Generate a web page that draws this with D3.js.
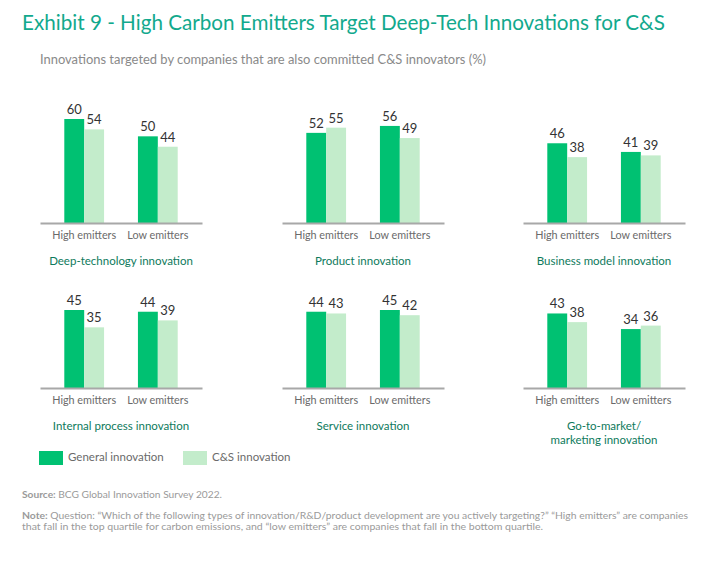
<!DOCTYPE html>
<html>
<head>
<meta charset="utf-8">
<script src="https://cdn.jsdelivr.net/npm/d3@7"></script>
<style>
  html, body { margin: 0; padding: 0; background: #fff; }
  svg { display: block; font-family: Lato, "Open Sans", sans-serif; }
</style>
</head>
<body>
<svg id="chart" width="727" height="563"></svg>
<script>
// ---- data ----
const title = "Exhibit 9 - High Carbon Emitters Target Deep-Tech Innovations for C&S";
const subtitle = "Innovations targeted by companies that are also committed C&S innovators (%)";
const panelTitles = [
  ["Deep-technology innovation"],
  ["Product innovation"],
  ["Business model innovation"],
  ["Internal process innovation"],
  ["Service innovation"],
  ["Go-to-market/", "marketing innovation"]
];
const groups = ["High emitters", "Low emitters"];
const seriesNames = ["General innovation", "C&S innovation"];
const generalValues = [[60, 50], [52, 56], [46, 41], [45, 44], [44, 45], [43, 34]];
const csValues      = [[54, 44], [55, 49], [38, 39], [35, 39], [43, 42], [38, 36]];
const sourceText = "BCG Global Innovation Survey 2022.";
const noteLines = [
  "Question: \u201cWhich of the following types of innovation/R&D/product development are you actively targeting?\u201d \u201cHigh emitters\u201d are companies",
  "that fall in the top quartile for carbon emissions, and \u201clow emitters\u201d are companies that fall in the bottom quartile."
];

// ---- layout ----
const colors = ["#00c172", "#c3eccb"];
const svg = d3.select("#chart");
const panelX = [40, 282, 523];
const rowBase = [223, 388];
const panelW = 162;

svg.append("text").attr("x", 22).attr("y", 30)
  .attr("fill", "#12a98d").attr("font-size", 21)
  .attr("textLength", 643).attr("lengthAdjust", "spacingAndGlyphs")
  .text(title);
svg.append("text").attr("x", 40).attr("y", 64)
  .attr("fill", "#8a8a8a").attr("font-size", 12.5)
  .attr("textLength", 446).attr("lengthAdjust", "spacingAndGlyphs")
  .text(subtitle);

const x0 = d3.scaleBand().domain(groups).range([0, panelW]).paddingInner(0.46).paddingOuter(0.33);
const x1 = d3.scaleBand().domain(seriesNames).range([0, x0.bandwidth()]);
const y = d3.scaleLinear().domain([0, 60]).range([0, 104]);

panelTitles.forEach((pt, i) => {
  const col = i % 3, row = Math.floor(i / 3);
  const g = svg.append("g").attr("transform", `translate(${panelX[col]},${rowBase[row]})`);
  groups.forEach((grp, gi) => {
    const vals = [generalValues[i][gi], csValues[i][gi]];
    vals.forEach((v, si) => {
      const bx = x0(grp) + x1(seriesNames[si]);
      g.append("rect").attr("x", bx).attr("y", -y(v))
        .attr("width", x1.bandwidth()).attr("height", y(v))
        .attr("fill", colors[si]);
      g.append("text").attr("x", bx + x1.bandwidth() / 2).attr("y", -y(v) - 5)
        .attr("text-anchor", "middle").attr("font-size", 13).attr("fill", "#333")
        .text(v);
    });
  });
  const axis = d3.axisBottom(x0).tickSize(0).tickPadding(8);
  const ag = g.append("g").call(axis);
  ag.select(".domain").attr("stroke", "#a8a8a8").attr("stroke-width", 2);
  ag.selectAll("text").attr("font-size", 10.8).attr("fill", "#6a6a6a")
    .attr("font-family", "Lato, 'Open Sans', sans-serif");
  pt.forEach((line, li) => {
    g.append("text").attr("x", panelW / 2).attr("y", 42 + li * 13.5)
      .attr("text-anchor", "middle").attr("font-size", 11.5).attr("fill", "#0e7a5c")
      .text(line);
  });
});

// legend
const legX = [39, 183];
seriesNames.forEach((s, i) => {
  svg.append("rect").attr("x", legX[i]).attr("y", 451).attr("width", 24).attr("height", 14).attr("fill", colors[i]);
  svg.append("text").attr("x", legX[i] + 29).attr("y", 461).attr("font-size", 11.5).attr("fill", "#6a6a6a").text(s);
});

// footer
const src = svg.append("text").attr("x", 22).attr("y", 498).attr("font-size", 10).attr("fill", "#9a9a9a")
  .attr("textLength", 200).attr("lengthAdjust", "spacingAndGlyphs");
src.append("tspan").attr("font-weight", "bold").text("Source: ");
src.append("tspan").text(sourceText);
const noteLen = [666, 521];
noteLines.forEach((line, i) => {
  const t = svg.append("text").attr("x", 22).attr("y", 519 + i * 11).attr("font-size", 10).attr("fill", "#9a9a9a")
    .attr("textLength", noteLen[i]).attr("lengthAdjust", "spacingAndGlyphs");
  if (i === 0) t.append("tspan").attr("font-weight", "bold").text("Note: ");
  t.append("tspan").text(line);
});
</script>
</body>
</html>
